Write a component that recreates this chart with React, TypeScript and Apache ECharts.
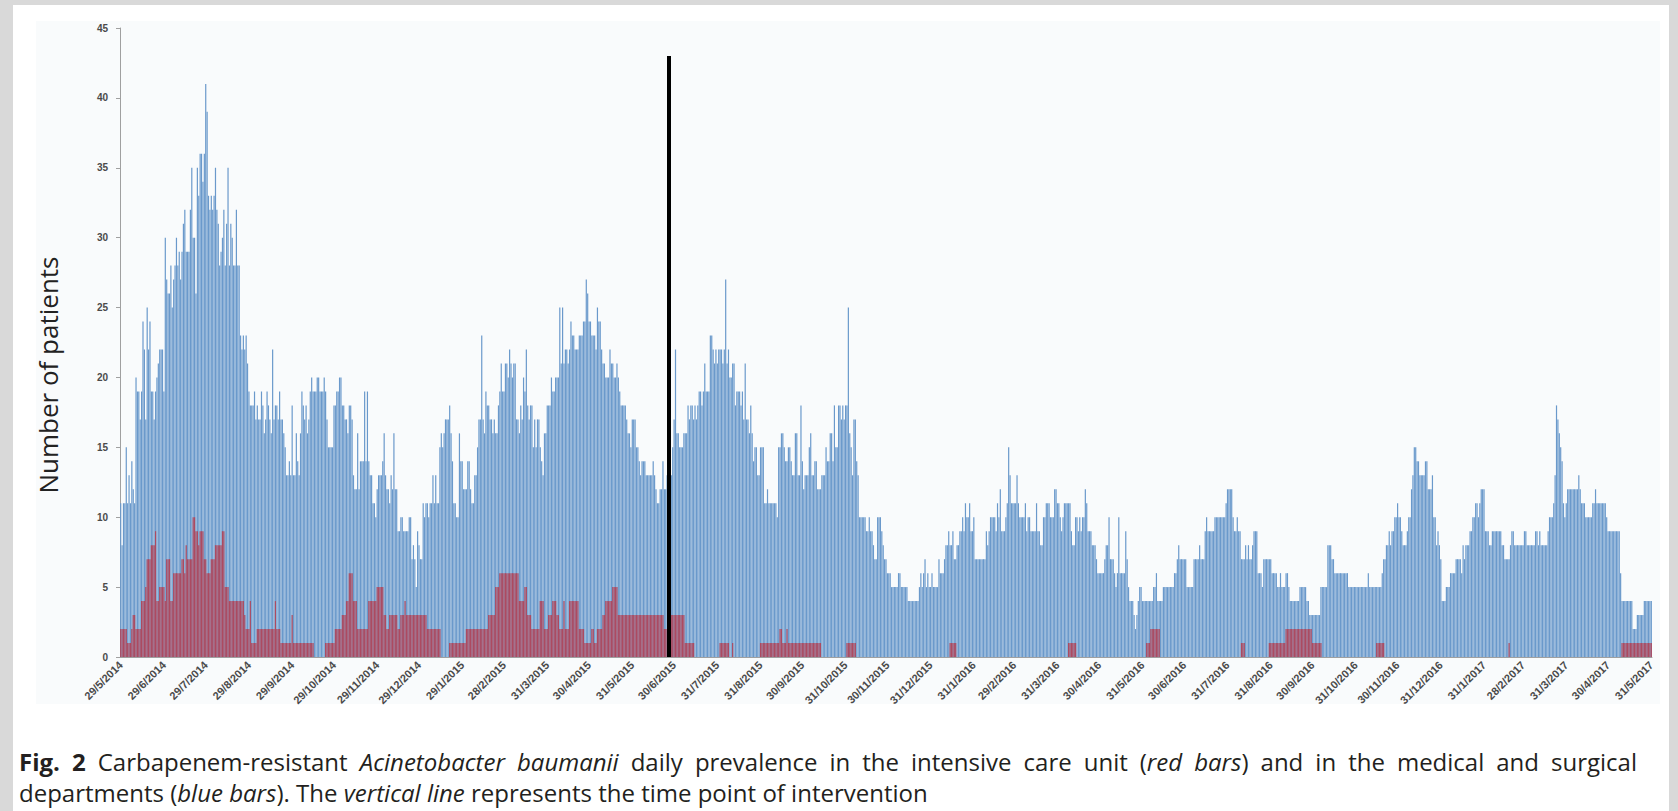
import React, { useEffect, useRef } from "react";
import * as echarts from "echarts";

// Daily prevalence, 29/5/2014 – 31/5/2017, split by calendar year.
// Medical and surgical departments (blue bars)
const blue2014 = [
  11, 8, 11, 11, 15, 11, 13, 11, 14, 12,
  11, 20, 19, 19, 17, 19, 24, 22, 17, 25,
  22, 24, 19, 19, 17, 19, 20, 21, 22, 22,
  22, 19, 30, 27, 26, 26, 28, 25, 27, 28,
  30, 28, 29, 27, 29, 31, 32, 29, 29, 29,
  32, 35, 30, 30, 26, 35, 33, 36, 36, 34,
  36, 41, 39, 33, 32, 33, 32, 33, 35, 32,
  31, 28, 29, 30, 32, 28, 31, 35, 28, 31,
  30, 28, 28, 32, 28, 28, 23, 22, 23, 22,
  23, 21, 19, 18, 18, 18, 19, 17, 18, 17,
  17, 19, 18, 16, 17, 19, 18, 17, 16, 22,
  17, 18, 18, 17, 19, 17, 17, 16, 15, 13,
  13, 14, 13, 18, 13, 13, 16, 14, 13, 16,
  19, 18, 17, 18, 16, 17, 19, 20, 19, 19,
  19, 20, 20, 19, 19, 19, 20, 19, 17, 15,
  15, 15, 15, 18, 18, 19, 19, 20, 20, 18,
  18, 17, 17, 16, 18, 18, 17, 13, 12, 12,
  16, 12, 14, 14, 14, 19, 14, 19, 14, 13,
  13, 11, 11, 10, 12, 13, 13, 13, 14, 16,
  13, 12, 12, 11, 13, 12, 16, 12, 12, 9,
  9, 10, 10, 9, 9, 9, 9, 10, 10, 7,
  8, 7, 5, 9, 8, 7, 7,
];
const blue2015 = [
  11, 10, 11, 11, 10, 11, 11, 13, 11, 13,
  11, 11, 15, 16, 15, 16, 17, 17, 17, 18,
  16, 14, 11, 11, 10, 10, 16, 14, 14, 12,
  12, 12, 14, 14, 12, 11, 11, 13, 13, 15,
  17, 17, 23, 17, 16, 19, 18, 18, 17, 17,
  16, 17, 16, 16, 18, 19, 21, 19, 19, 21,
  21, 20, 22, 21, 20, 21, 21, 17, 17, 16,
  18, 17, 20, 19, 22, 18, 17, 18, 18, 15,
  17, 15, 17, 17, 15, 14, 13, 16, 16, 18,
  18, 18, 20, 19, 19, 20, 20, 20, 25, 21,
  25, 21, 22, 22, 21, 22, 24, 23, 23, 22,
  22, 22, 23, 23, 23, 24, 24, 27, 26, 24,
  24, 23, 23, 23, 22, 25, 24, 24, 22, 21,
  21, 20, 20, 20, 22, 21, 21, 20, 20, 21,
  20, 19, 18, 18, 18, 18, 17, 16, 16, 15,
  17, 17, 17, 15, 15, 14, 13, 14, 14, 14,
  13, 13, 13, 13, 13, 14, 13, 12, 11, 11,
  12, 12, 14, 12, 12, 13, 12, 13, 13, 15,
  17, 22, 16, 16, 15, 15, 15, 16, 16, 16,
  18, 17, 18, 18, 17, 18, 17, 18, 19, 19,
  18, 19, 21, 19, 19, 19, 23, 23, 22, 21,
  22, 21, 22, 22, 22, 21, 22, 27, 21, 22,
  20, 20, 21, 21, 18, 19, 19, 19, 18, 19,
  17, 21, 17, 17, 16, 18, 16, 14, 15, 15,
  13, 13, 15, 15, 15, 11, 11, 12, 11, 11,
  11, 11, 11, 11, 10, 15, 15, 16, 16, 15,
  14, 14, 15, 15, 14, 13, 13, 16, 16, 13,
  13, 18, 14, 12, 13, 13, 13, 15, 16, 13,
  13, 14, 14, 12, 12, 12, 13, 13, 13, 15,
  14, 14, 16, 16, 14, 18, 15, 15, 18, 18,
  17, 18, 17, 18, 18, 25, 16, 15, 13, 17,
  17, 14, 13, 10, 10, 10, 10, 10, 9, 9,
  10, 9, 9, 8, 7, 7, 10, 10, 10, 9,
  8, 7, 7, 6, 6, 6, 5, 5, 5, 5,
  5, 6, 6, 5, 5, 5, 5, 5, 4, 4,
  4, 4, 4, 4, 4, 4, 5, 6, 5, 6,
  7, 5, 6, 5, 5,
];
const blue2016 = [
  6, 5, 5, 5, 5, 7, 6, 6, 6, 7,
  8, 8, 9, 8, 8, 9, 7, 7, 8, 8,
  9, 9, 10, 9, 11, 10, 10, 11, 9, 9,
  10, 7, 7, 7, 7, 7, 7, 7, 7, 9,
  8, 9, 10, 10, 10, 10, 9, 11, 10, 12,
  9, 9, 9, 10, 11, 15, 13, 11, 11, 11,
  11, 13, 11, 10, 10, 10, 10, 11, 9, 10,
  10, 9, 9, 9, 9, 11, 9, 9, 8, 8,
  10, 10, 11, 11, 11, 10, 10, 10, 12, 12,
  11, 11, 10, 9, 10, 11, 11, 11, 11, 11,
  9, 8, 8, 10, 10, 9, 10, 9, 10, 10,
  12, 11, 9, 9, 9, 8, 8, 8, 7, 6,
  6, 6, 6, 6, 7, 8, 8, 10, 7, 7,
  7, 6, 5, 6, 10, 6, 6, 6, 6, 9,
  7, 5, 4, 4, 4, 3, 2, 3, 4, 5,
  5, 4, 4, 4, 4, 4, 4, 4, 4, 5,
  5, 6, 4, 4, 4, 4, 5, 5, 5, 5,
  5, 5, 5, 5, 6, 6, 7, 8, 7, 7,
  7, 7, 7, 5, 5, 5, 5, 5, 7, 7,
  7, 7, 8, 7, 7, 7, 9, 10, 9, 9,
  9, 9, 9, 10, 10, 10, 10, 10, 10, 10,
  10, 11, 12, 12, 12, 12, 10, 9, 9, 10,
  9, 9, 7, 7, 7, 8, 7, 8, 7, 7,
  8, 9, 9, 9, 6, 6, 6, 5, 7, 7,
  7, 7, 7, 7, 6, 6, 6, 6, 5, 5,
  6, 5, 5, 5, 6, 6, 5, 4, 4, 4,
  4, 4, 4, 4, 5, 5, 5, 5, 5, 4,
  4, 3, 3, 3, 3, 3, 3, 3, 3, 5,
  5, 5, 5, 5, 8, 8, 8, 7, 7, 6,
  6, 6, 6, 6, 6, 6, 6, 6, 6, 5,
  5, 5, 5, 5, 5, 5, 5, 5, 5, 5,
  5, 5, 5, 6, 5, 5, 5, 5, 5, 5,
  5, 5, 5, 6, 7, 7, 8, 8, 9, 8,
  9, 9, 10, 10, 11, 10, 10, 9, 8, 8,
  8, 9, 10, 10, 12, 13, 15, 15, 14, 14,
  13, 13, 13, 13, 14, 14, 12, 12, 12, 13,
  10, 10, 8, 9, 8, 7,
];
const blue2017 = [
  4, 4, 4, 5, 5, 5, 6, 6, 6, 6,
  7, 7, 7, 7, 6, 8, 7, 8, 8, 8,
  9, 9, 10, 10, 11, 11, 10, 11, 12, 12,
  12, 9, 9, 9, 8, 8, 9, 9, 9, 9,
  9, 9, 9, 8, 8, 7, 7, 7, 7, 8,
  9, 9, 8, 8, 8, 8, 8, 8, 8, 9,
  9, 8, 8, 8, 8, 8, 8, 9, 9, 8,
  9, 8, 8, 8, 8, 8, 9, 10, 10, 10,
  11, 13, 18, 17, 16, 15, 14, 11, 10, 11,
  12, 12, 12, 12, 12, 12, 12, 12, 13, 12,
  11, 11, 11, 10, 10, 10, 10, 10, 11, 11,
  12, 11, 11, 11, 11, 11, 11, 11, 10, 9,
  9, 9, 9, 9, 9, 9, 9, 9, 6, 4,
  4, 4, 4, 4, 4, 4, 4, 2, 2, 2,
  3, 3, 3, 3, 3, 4, 4, 4, 4, 4,
  4,
];

// Intensive care unit (red bars)
const red2014 = [
  2, 2, 2, 2, 2, 1, 1, 1, 2, 3,
  3, 2, 2, 2, 2, 4, 4, 4, 5, 7,
  7, 7, 8, 8, 8, 9, 4, 4, 5, 5,
  5, 5, 4, 7, 7, 7, 4, 4, 6, 6,
  6, 6, 6, 6, 7, 7, 6, 8, 7, 7,
  7, 7, 10, 10, 9, 9, 8, 9, 9, 9,
  7, 7, 6, 6, 6, 7, 7, 7, 8, 8,
  8, 8, 8, 9, 9, 5, 5, 5, 4, 4,
  4, 4, 4, 4, 4, 4, 4, 4, 4, 3,
  2, 2, 2, 4, 1, 1, 1, 1, 2, 2,
  2, 2, 2, 2, 2, 2, 2, 2, 2, 2,
  2, 4, 2, 2, 2, 1, 1, 1, 1, 1,
  1, 1, 1, 3, 1, 1, 1, 1, 1, 1,
  1, 1, 1, 1, 1, 1, 1, 1, 1, 0,
  0, 0, 0, 0, 0, 0, 0, 1, 1, 1,
  1, 1, 1, 1, 2, 2, 2, 2, 2, 3,
  3, 3, 4, 4, 6, 6, 6, 4, 4, 4,
  2, 2, 2, 2, 2, 2, 2, 2, 4, 4,
  4, 4, 4, 4, 5, 5, 5, 5, 5, 3,
  3, 2, 2, 3, 3, 3, 3, 3, 3, 2,
  2, 3, 3, 3, 4, 3, 3, 3, 3, 3,
  3, 3, 3, 3, 3, 3, 3,
];
const red2015 = [
  3, 3, 3, 2, 2, 2, 2, 2, 2, 2,
  2, 2, 2, 0, 0, 0, 0, 0, 0, 1,
  1, 1, 1, 1, 1, 1, 1, 1, 1, 1,
  1, 2, 2, 2, 2, 2, 2, 2, 2, 2,
  2, 2, 2, 2, 2, 2, 2, 3, 3, 3,
  3, 3, 5, 5, 5, 6, 6, 6, 6, 6,
  6, 6, 6, 6, 6, 6, 6, 6, 6, 4,
  4, 4, 4, 5, 5, 3, 3, 3, 2, 2,
  2, 2, 2, 2, 4, 4, 4, 2, 2, 2,
  3, 3, 3, 4, 4, 4, 3, 3, 2, 2,
  2, 4, 2, 2, 2, 4, 4, 4, 4, 4,
  4, 4, 2, 2, 2, 2, 1, 1, 1, 1,
  1, 2, 2, 1, 1, 2, 2, 2, 2, 3,
  3, 4, 4, 4, 4, 4, 5, 5, 5, 5,
  3, 3, 3, 3, 3, 3, 3, 3, 3, 3,
  3, 3, 3, 3, 3, 3, 3, 3, 3, 3,
  3, 3, 3, 3, 3, 3, 3, 3, 3, 3,
  3, 3, 3, 2, 2, 2, 2, 3, 3, 3,
  3, 3, 3, 3, 3, 3, 3, 3, 1, 1,
  1, 1, 1, 1, 1, 0, 0, 0, 0, 0,
  0, 0, 0, 0, 0, 0, 0, 0, 0, 0,
  0, 0, 0, 1, 1, 1, 1, 1, 1, 1,
  0, 0, 1, 0, 0, 0, 0, 0, 0, 0,
  0, 0, 0, 0, 0, 0, 0, 0, 0, 0,
  0, 0, 1, 1, 1, 1, 1, 1, 1, 1,
  1, 1, 1, 1, 1, 1, 2, 2, 1, 1,
  1, 2, 1, 1, 1, 1, 1, 1, 1, 1,
  1, 1, 1, 1, 1, 1, 1, 1, 1, 1,
  1, 1, 1, 1, 1, 1, 0, 0, 0, 0,
  0, 0, 0, 0, 0, 0, 0, 0, 0, 0,
  0, 0, 0, 0, 1, 1, 1, 1, 1, 1,
  1, 0, 0, 0, 0, 0, 0, 0, 0, 0,
  0, 0, 0, 0, 0, 0, 0, 0, 0, 0,
  0, 0, 0, 0, 0, 0, 0, 0, 0, 0,
  0, 0, 0, 0, 0, 0, 0, 0, 0, 0,
  0, 0, 0, 0, 0, 0, 0, 0, 0, 0,
  0, 0, 0, 0, 0,
];
const red2016 = [
  0, 0, 0, 0, 0, 0, 0, 0, 0, 0,
  0, 0, 0, 1, 1, 1, 1, 1, 0, 0,
  0, 0, 0, 0, 0, 0, 0, 0, 0, 0,
  0, 0, 0, 0, 0, 0, 0, 0, 0, 0,
  0, 0, 0, 0, 0, 0, 0, 0, 0, 0,
  0, 0, 0, 0, 0, 0, 0, 0, 0, 0,
  0, 0, 0, 0, 0, 0, 0, 0, 0, 0,
  0, 0, 0, 0, 0, 0, 0, 0, 0, 0,
  0, 0, 0, 0, 0, 0, 0, 0, 0, 0,
  0, 0, 0, 0, 0, 0, 0, 0, 1, 1,
  1, 1, 1, 1, 0, 0, 0, 0, 0, 0,
  0, 0, 0, 0, 0, 0, 0, 0, 0, 0,
  0, 0, 0, 0, 0, 0, 0, 0, 0, 0,
  0, 0, 0, 0, 0, 0, 0, 0, 0, 0,
  0, 0, 0, 0, 0, 0, 0, 0, 0, 0,
  0, 0, 0, 0, 1, 1, 1, 2, 2, 2,
  2, 2, 2, 2, 0, 0, 0, 0, 0, 0,
  0, 0, 0, 0, 0, 0, 0, 0, 0, 0,
  0, 0, 0, 0, 0, 0, 0, 0, 0, 0,
  0, 0, 0, 0, 0, 0, 0, 0, 0, 0,
  0, 0, 0, 0, 0, 0, 0, 0, 0, 0,
  0, 0, 0, 0, 0, 0, 0, 0, 0, 0,
  0, 0, 1, 1, 1, 0, 0, 0, 0, 0,
  0, 0, 0, 0, 0, 0, 0, 0, 0, 0,
  0, 0, 1, 1, 1, 1, 1, 1, 1, 1,
  1, 1, 1, 1, 2, 2, 2, 2, 2, 2,
  2, 2, 2, 2, 2, 2, 2, 2, 2, 2,
  2, 2, 2, 1, 1, 1, 1, 1, 1, 1,
  0, 0, 0, 0, 0, 0, 0, 0, 0, 0,
  0, 0, 0, 0, 0, 0, 0, 0, 0, 0,
  0, 0, 0, 0, 0, 0, 0, 0, 0, 0,
  0, 0, 0, 0, 0, 0, 0, 0, 0, 1,
  1, 1, 1, 1, 1, 0, 0, 0, 0, 0,
  0, 0, 0, 0, 0, 0, 0, 0, 0, 0,
  0, 0, 0, 0, 0, 0, 0, 0, 0, 0,
  0, 0, 0, 0, 0, 0, 0, 0, 0, 0,
  0, 0, 0, 0, 0, 0,
];
const red2017 = [
  0, 0, 0, 0, 0, 0, 0, 0, 0, 0,
  0, 0, 0, 0, 0, 0, 0, 0, 0, 0,
  0, 0, 0, 0, 0, 0, 0, 0, 0, 0,
  0, 0, 0, 0, 0, 0, 0, 0, 0, 0,
  0, 0, 0, 0, 0, 0, 0, 0, 1, 0,
  0, 0, 0, 0, 0, 0, 0, 0, 0, 0,
  0, 0, 0, 0, 0, 0, 0, 0, 0, 0,
  0, 0, 0, 0, 0, 0, 0, 0, 0, 0,
  0, 0, 0, 0, 0, 0, 0, 0, 0, 0,
  0, 0, 0, 0, 0, 0, 0, 0, 0, 0,
  0, 0, 0, 0, 0, 0, 0, 0, 0, 0,
  0, 0, 0, 0, 0, 0, 0, 0, 0, 0,
  0, 0, 0, 0, 0, 0, 0, 0, 0, 1,
  1, 1, 1, 1, 1, 1, 1, 1, 1, 1,
  1, 1, 1, 1, 1, 1, 1, 1, 1, 1,
  1,
];

// Dates shown on the x axis
const tickLabels = [
  "29/5/2014", "29/6/2014", "29/7/2014", "29/8/2014", "29/9/2014", "29/10/2014",
  "29/11/2014", "29/12/2014", "29/1/2015", "28/2/2015", "31/3/2015", "30/4/2015",
  "31/5/2015", "30/6/2015", "31/7/2015", "31/8/2015", "30/9/2015", "31/10/2015",
  "30/11/2015", "31/12/2015", "31/1/2016", "29/2/2016", "31/3/2016", "30/4/2016",
  "31/5/2016", "30/6/2016", "31/7/2016", "31/8/2016", "30/9/2016", "31/10/2016",
  "30/11/2016", "31/12/2016", "31/1/2017", "28/2/2017", "31/3/2017", "30/4/2017",
  "31/5/2017",
];

const interventionDate = "26/6/2015";

// Caption, word by word: [text, style] where style is n (regular), b (bold) or i (italic)
type Seg = [string, "n" | "b" | "i"];
const captionLine1: Seg[][] = [
  [["Fig.", "b"]], [["2", "b"]], [["Carbapenem-resistant", "n"]],
  [["Acinetobacter", "i"]], [["baumanii", "i"]], [["daily", "n"]], [["prevalence", "n"]],
  [["in", "n"]], [["the", "n"]], [["intensive", "n"]], [["care", "n"]], [["unit", "n"]],
  [["(", "n"], ["red", "i"]], [["bars", "i"], [")", "n"]], [["and", "n"]], [["in", "n"]],
  [["the", "n"]], [["medical", "n"]], [["and", "n"]], [["surgical", "n"]],
];
const captionLine2: Seg[] = [
  ["departments (", "n"], ["blue bars", "i"], ["). The ", "n"], ["vertical line", "i"],
  [" represents the time point of intervention", "n"],
];

const blueValues = [...blue2014, ...blue2015, ...blue2016, ...blue2017];
const redValues = [...red2014, ...red2015, ...red2016, ...red2017];

// One category per day from 29/5/2014
const days: string[] = [];
{
  const start = Date.UTC(2014, 4, 29);
  for (let i = 0; i < blueValues.length; i++) {
    const d = new Date(start + i * 86400000);
    days.push(`${d.getUTCDate()}/${d.getUTCMonth() + 1}/${d.getUTCFullYear()}`);
  }
}

const tickSet = new Set(tickLabels);
const showTick = (index: number, value: string) => tickSet.has(value ?? days[index]);

const CAPTION_FONT = '"Open Sans", "Noto Sans", sans-serif';
const CAPTION_SIZE = 24;
const CAPTION_LEFT = 19;
const CAPTION_RIGHT = 1637;

const segMarkup = (segs: Seg[]) =>
  segs.map(([t, s]) => (s === "n" ? t : `{${s}|${t}}`)).join("");

export default function App() {
  const ref = useRef<HTMLDivElement>(null);

  useEffect(() => {
    if (!ref.current) return;
    const chart = echarts.init(ref.current, undefined, { renderer: "svg" });

    const capStyle = { fontSize: CAPTION_SIZE, fontFamily: CAPTION_FONT, fill: "#231f20" };
    const rich = {
      b: { ...capStyle, fontWeight: "bold" },
      i: { ...capStyle, fontStyle: "italic" },
    };

    // Justify the first caption line across the full width
    const ctx = document.createElement("canvas").getContext("2d")!;
    const measure = (segs: Seg[]) =>
      segs.reduce((w, [t, s]) => {
        ctx.font = `${s === "i" ? "italic " : ""}${s === "b" ? "bold " : ""}${CAPTION_SIZE}px ${CAPTION_FONT}`;
        return w + ctx.measureText(t).width;
      }, 0);
    const widths = captionLine1.map(measure);
    const total = widths.reduce((a, b) => a + b, 0);
    const gap = (CAPTION_RIGHT - CAPTION_LEFT - total) / (captionLine1.length - 1);
    let cx = CAPTION_LEFT;
    const line1 = captionLine1.map((segs, k) => {
      const el = {
        type: "text",
        x: cx,
        y: 761,
        style: { text: segMarkup(segs), ...capStyle, verticalAlign: "middle", rich },
      };
      cx += widths[k] + gap;
      return el;
    });

    chart.setOption({
      animation: false,
      backgroundColor: "#d9d9d9",
      grid: { left: 120, right: 26, top: 28, bottom: 154, containLabel: false },
      xAxis: {
        type: "category",
        data: days,
        boundaryGap: true,
        axisLine: { lineStyle: { color: "#a0a0a0", width: 1 } },
        axisTick: {
          alignWithLabel: true,
          interval: showTick,
          length: 4,
          lineStyle: { color: "#a0a0a0" },
        },
        axisLabel: {
          interval: showTick,
          rotate: 45,
          fontSize: 11,
          fontWeight: "bold",
          fontFamily: "Liberation Sans, Arial, sans-serif",
          color: "#4a4a4a",
          margin: 6,
        },
        splitLine: { show: false },
      },
      yAxis: {
        type: "value",
        min: 0,
        max: 45,
        interval: 5,
        axisLine: { show: true, lineStyle: { color: "#a0a0a0", width: 1 } },
        axisTick: { show: true, length: 4, lineStyle: { color: "#a0a0a0" } },
        axisLabel: {
          fontSize: 10,
          fontWeight: "bold",
          fontFamily: "Liberation Sans, Arial, sans-serif",
          color: "#4a4a4a",
          margin: 12,
        },
        splitLine: { show: false },
      },
      series: [
        {
          name: "Medical and surgical departments",
          type: "bar",
          data: blueValues,
          barGap: "-100%",
          barCategoryGap: "14%",
          itemStyle: { color: "#6a99cb" },
          z: 2,
        },
        {
          name: "Intensive care unit",
          type: "bar",
          data: redValues,
          barGap: "-100%",
          barCategoryGap: "14%",
          itemStyle: { color: "#ad4a60" },
          z: 3,
          markLine: {
            silent: true,
            symbol: ["none", "none"],
            label: { show: false },
            lineStyle: { color: "#000000", width: 4, type: "solid" },
            data: [[{ coord: [interventionDate, 0] }, { coord: [interventionDate, 43] }]],
            z: 5,
          },
        },
      ],
      graphic: [
        {
          type: "rect",
          z: -20,
          silent: true,
          shape: { x: 13, y: 5, width: 1656, height: 806 },
          style: { fill: "#ffffff" },
        },
        {
          type: "rect",
          z: -19,
          silent: true,
          shape: { x: 36, y: 21, width: 1624, height: 683 },
          style: { fill: "#f9fbfc" },
        },
        {
          type: "text",
          x: 48,
          y: 375,
          rotation: Math.PI / 2,
          style: {
            text: "Number of patients",
            fontSize: 26,
            fontFamily: CAPTION_FONT,
            fill: "#222222",
            align: "center",
            verticalAlign: "middle",
          },
        },
        ...line1,
        {
          type: "text",
          x: CAPTION_LEFT,
          y: 792,
          style: {
            text: segMarkup(captionLine2),
            ...capStyle,
            verticalAlign: "middle",
            rich,
          },
        },
      ],
    });

    return () => chart.dispose();
  }, []);

  return (
    <div
      ref={ref}
      style={{ position: "absolute", left: 0, top: 0, width: 1678, height: 811 }}
    />
  );
}
